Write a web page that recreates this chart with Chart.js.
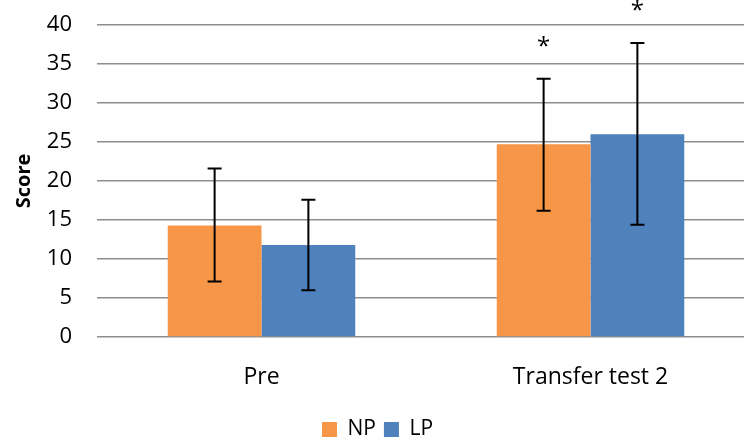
<!DOCTYPE html>
<html>
<head>
<meta charset="utf-8">
<script src="https://cdn.jsdelivr.net/npm/chart.js@4/dist/chart.umd.min.js"></script>
<style>
    html, body { margin: 0; padding: 0; background: #fff; overflow: hidden; }
    #wrap { width: 766px; height: 456px; }
</style>
</head>
<body>
<div id="wrap"><canvas id="scoreChart"></canvas></div>
<script>
const categories = ["Pre", "Transfer test 2"];
const npValues = [14.3, 24.7];
const lpValues = [11.8, 26.0];
const npLow = [7.1, 16.2];
const npHigh = [21.6, 33.1];
const lpLow = [6.0, 14.4];
const lpHigh = [17.6, 37.7];
const npMarks = ["", "*"];
const lpMarks = ["", "*"];
const yTicks = [0, 5, 10, 15, 20, 25, 30, 35, 40];

const errLows = [npLow, lpLow];
const errHighs = [npHigh, lpHigh];
const marks = [npMarks, lpMarks];

const errorBars = {
    id: "errorBars",
    afterDatasetsDraw: function (chart) {
        const ctx = chart.ctx;
        const yScale = chart.scales.y;
        ctx.save();
        ctx.strokeStyle = "#000";
        ctx.lineWidth = 2;
        chart.data.datasets.forEach(function (ds, i) {
            const meta = chart.getDatasetMeta(i);
            meta.data.forEach(function (bar, j) {
                const x = bar.x;
                const yLo = yScale.getPixelForValue(errLows[i][j]);
                const yHi = yScale.getPixelForValue(errHighs[i][j]);
                ctx.beginPath();
                ctx.moveTo(x, yLo);
                ctx.lineTo(x, yHi);
                ctx.moveTo(x - 7, yLo);
                ctx.lineTo(x + 7, yLo);
                ctx.moveTo(x - 7, yHi);
                ctx.lineTo(x + 7, yHi);
                ctx.stroke();
                if (marks[i][j]) {
                    ctx.fillStyle = "#000";
                    ctx.font = "24px 'Open Sans'";
                    ctx.textAlign = "center";
                    ctx.textBaseline = "middle";
                    ctx.fillText(marks[i][j], x, yHi - 32);
                }
            });
        });
        ctx.restore();
    }
};

const ctx = document.getElementById("scoreChart").getContext("2d");
new Chart(ctx, {
    type: "bar",
    data: {
        labels: categories,
        datasets: [{
            label: "NP",
            data: npValues,
            backgroundColor: "#F79646",
            categoryPercentage: 0.57,
            barPercentage: 1.0
        }, {
            label: "LP",
            data: lpValues,
            backgroundColor: "#4F81BD",
            categoryPercentage: 0.57,
            barPercentage: 1.0
        }]
    },
    options: {
        responsive: true,
        maintainAspectRatio: false,
        animation: false,
        layout: {
            padding: { top: 25, right: 11, bottom: 6, left: 0 }
        },
        scales: {
            x: {
                grid: { display: false },
                border: { display: false },
                ticks: {
                    color: "#000",
                    padding: 19,
                    font: { family: "'Open Sans'", size: 23 }
                },
                afterFit: function (scale) {
                    scale.height = 74;
                }
            },
            y: {
                min: 0,
                max: 40,
                afterBuildTicks: function (scale) {
                    scale.ticks = yTicks.map(function (v) { return { value: v }; });
                },
                grid: {
                    color: "#8e8e8e",
                    lineWidth: 1.5,
                    drawTicks: false
                },
                border: { display: false },
                ticks: {
                    color: "#000",
                    padding: 25,
                    font: { family: "'Open Sans'", size: 22 }
                },
                title: {
                    display: true,
                    text: "Score",
                    color: "#000",
                    padding: { top: 12, bottom: 0 },
                    font: { family: "'Open Sans'", size: 20, weight: "bold" }
                },
                afterFit: function (scale) {
                    scale.width = 97;
                    scale.paddingTop = 12;
                    scale.paddingBottom = 12;
                }
            }
        },
        plugins: {
            legend: {
                position: "bottom",
                labels: {
                    color: "#000",
                    boxWidth: 15,
                    boxHeight: 15,
                    padding: 8,
                    font: { family: "'Open Sans'", size: 21 }
                }
            },
            tooltip: { enabled: false }
        }
    },
    plugins: [errorBars]
});
</script>
</body>
</html>
